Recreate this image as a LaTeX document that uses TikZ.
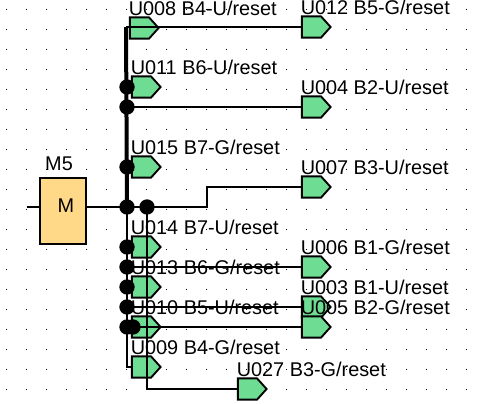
\documentclass[tikz,border=0pt]{standalone}
\usepackage{fontspec}
\setmainfont{Liberation Sans}
\usepackage{xcolor}
\usetikzlibrary{shapes.symbols,positioning,calc}
\definecolor{portgreen}{HTML}{6FDC94}
\definecolor{blockyellow}{HTML}{FFD987}

\begin{document}
\begin{tikzpicture}[x=0.75pt,y=-0.75pt,
portbox/.style={signal,signal to=east,signal pointer angle=96,draw=black,line width=1.4pt,fill=portgreen,inner sep=0pt,minimum width=21.5pt,minimum height=16pt,anchor=west},
portlabel/.style={anchor=base west,inner sep=0pt,font=\fontsize{14.9}{16}\selectfont},
joint/.style={circle,fill=black,inner sep=0pt,minimum size=11.5pt},
wire/.style={line width=1.15pt},
trunk/.style={line width=3pt}]
\useasboundingbox (0,0) rectangle (480,404);
% grid dots
\foreach \i in {0,...,23}
  \foreach \j in {0,...,19}
    \fill (7+20*\i-0.5,9+20*\j-0.5) rectangle +(1,1);
% block
\node[draw=black,line width=1.4pt,fill=blockyellow,minimum width=35pt,minimum height=50pt,inner sep=0pt] (m5) at (63,211) {};
\node[portlabel,anchor=base] (m5-name) at (59,170) {M5};
\node[portlabel,anchor=base] (m5-type) at (66,212) {M};
% ports
\foreach \name/\x/\y/\txt in {
U008/129/28/B4-U,U011/131/87/B6-U,U015/131/167/B7-G,
U014/131/247/B7-U,U013/131/287/B6-G,U010/131/327/B5-U,U009/131/367/B4-G,
U012/301/27/B5-G,U004/301/107/B2-U,U007/301/187/B3-U,
U006/301/267/B1-G,U003/301/307/B1-U,U005/301/327/B2-G,U027/237/389/B3-G}
{
\node[portbox] (\name) at (\x,\y) {};
\node[portlabel] (\name-text) at (\x-0.5,\y-12.5) {\name\ \txt/reset};
}
% joints
\foreach \name/\x/\y in {a/127/87,b/127/107,c/127/167,d/127/207,e/147/207,f/127/247,g/127/267,h/127/287,i/127/307,j/127/327,k/133/327}
  \node[joint] (\name) at (\x,\y) {};
\coordinate (stub) at (27,207);
\coordinate (top) at (126,27);
\coordinate (bend) at (207,207);
% wires
\draw[trunk] (top) -- (d.center);
\path[wire]
(stub) edge (m5.west |- stub)
(m5.east |- stub) edge (e.center)
;
\draw[wire] (top) -- (U012.west);
\draw[wire] (b.center) -- (U004.west);
\draw[wire] (e.center) -- (bend) |- (U007.west);
\draw[wire] (g.center) -- (U006.west);
\draw[wire] (i.center) -- (U003.west);
\draw[wire] (k.center) -- (U005.west);
\draw[wire] (d.center) |- (U009.west);
\draw[wire] (e.center) |- (U027.west);
\end{tikzpicture}
\end{document}
